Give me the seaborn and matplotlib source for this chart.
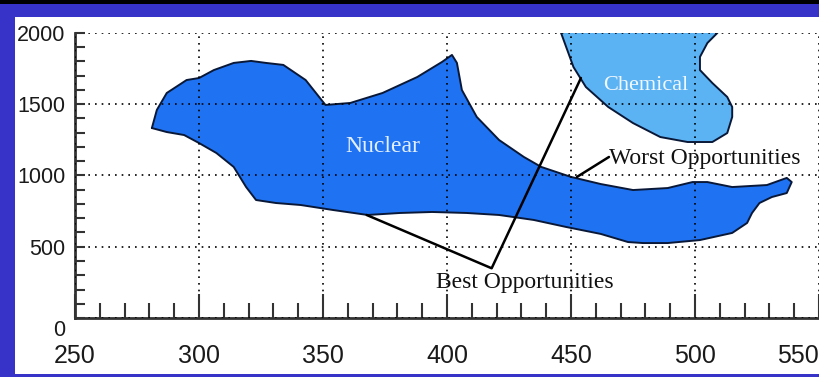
import matplotlib
matplotlib.use("Agg")
import matplotlib.pyplot as plt
import matplotlib.transforms as mtransforms
from matplotlib.patches import Rectangle
from matplotlib.ticker import MultipleLocator
import seaborn as sns

# ---------------- data ----------------
nuclear_x = [281, 283, 287, 295, 300, 306, 314, 321, 327, 334,
             343, 351, 361, 374, 388, 398, 402, 404, 406, 412,
             421, 431, 438, 450, 462, 475, 489, 499, 505, 515,
             529, 537, 539, 537, 531, 526, 523, 521, 515, 502,
             489, 479, 473, 462, 448, 435, 421, 408, 394, 381,
             368, 354, 341, 331, 323, 319, 314, 307, 300, 294, 287]
nuclear_y = [1333, 1460, 1579, 1670, 1684, 1740, 1790, 1804, 1790, 1776,
             1670, 1495, 1509, 1579, 1691, 1797, 1846, 1790, 1600, 1411,
             1249, 1130, 1060, 990, 940, 898, 912, 954, 954, 919,
             933, 983, 954, 877, 849, 807, 737, 667, 597, 547,
             526, 526, 533, 590, 639, 688, 723, 737, 744, 737,
             723, 758, 793, 807, 828, 919, 1060, 1158, 1228, 1284, 1305]

chemical_x = [444, 446, 451, 456, 465, 475, 486, 497, 507, 513,
              515, 515, 513, 507, 502, 502, 505, 509, 511]
chemical_y = [2060, 2000, 1761, 1621, 1481, 1368, 1270, 1235, 1235, 1298,
              1411, 1481, 1551, 1649, 1740, 1832, 1930, 2000, 2060]

region_labels = ["Nuclear", "Chemical"]
region_label_x = [374, 480]
region_label_y = [1200, 1635]

worst_label = "Worst Opportunities"
worst_text_x, worst_text_y = 465.5, 1116
worst_line_x = [465.3, 452.4]
worst_line_y = [1130, 990]

best_label = "Best Opportunities"
best_text_x, best_text_y = 431.4, 246
best_line_x = [367.6, 418.0, 454.0]
best_line_y = [723, 349, 1684]

x_ticks = [250, 300, 350, 400, 450, 500, 550]
y_ticks = [0, 500, 1000, 1500, 2000]

# ---------------- figure ----------------
sns.set_theme(style="white")
W, H = 820, 377
fig = plt.figure(figsize=(W / 100, H / 100), dpi=100, facecolor="#3833C8")
fig.add_artist(Rectangle((0, 373 / H), 1, 4 / H, transform=fig.transFigure,
                         facecolor="black", edgecolor="none", zorder=-10))
fig.add_artist(Rectangle((15 / W, 3 / H), 1 - 15 / W, 357 / H, transform=fig.transFigure,
                         facecolor="white", edgecolor="none", zorder=-10))

ax = fig.add_axes([75 / W, 59 / H, 744 / W, 285 / H])
ax.set_facecolor("none")

nuc_col = "#1F73F2"
chem_col = "#5BB3F4"
edge_col = "#0A1838"

ax.fill(nuclear_x, nuclear_y, color=nuc_col, zorder=1, linewidth=0)
ax.fill(chemical_x, chemical_y, color=chem_col, zorder=1, linewidth=0)
sns.lineplot(x=nuclear_x + nuclear_x[:1], y=nuclear_y + nuclear_y[:1], sort=False,
             estimator=None, ax=ax, color=edge_col, linewidth=1.4, zorder=2)
sns.lineplot(x=chemical_x, y=chemical_y, sort=False, estimator=None, ax=ax,
             color=edge_col, linewidth=1.4, zorder=2)

# annotation lines
sns.lineplot(x=worst_line_x, y=worst_line_y, sort=False, estimator=None, ax=ax,
             color="black", linewidth=1.8, zorder=3)
sns.lineplot(x=best_line_x, y=best_line_y, sort=False, estimator=None, ax=ax,
             color="black", linewidth=1.8, zorder=3)

serif = ["Liberation Serif", "DejaVu Serif"]
label_cols = ["#E4F0FF", "#F2F8FF"]
label_sizes = [17, 16]
for lab, lx, ly, c, fs in zip(region_labels, region_label_x, region_label_y,
                              label_cols, label_sizes):
    ax.text(lx, ly, lab, ha="center", va="center", fontsize=fs, color=c,
            family=serif, zorder=4)
ax.text(worst_text_x, worst_text_y, worst_label, ha="left", va="center",
        fontsize=17, color="#111111", family=serif, zorder=4)
ax.text(best_text_x, best_text_y, best_label, ha="center", va="center",
        fontsize=17, color="#111111", family=serif, zorder=4)

# axes
ax.set_xlim(250, 550)
ax.set_ylim(0, 2000)
ax.set_xlabel("")
ax.set_ylabel("")
tickfont = ["Liberation Sans", "DejaVu Sans"]
ax.set_xticks(x_ticks, labels=[str(v) for v in x_ticks], fontsize=18,
              family=tickfont, color="#1a1a1a")
ax.set_yticks(y_ticks, labels=[str(v) for v in y_ticks], fontsize=15.5,
              family=tickfont, color="#1a1a1a")
ax.xaxis.set_minor_locator(MultipleLocator(10))
ax.yaxis.set_minor_locator(MultipleLocator(100))
ax.tick_params(axis="x", which="major", direction="in", length=17, width=1.5,
               color="#333333", pad=19, bottom=True)
ax.tick_params(axis="x", which="minor", direction="in", length=11, width=1.5,
               color="#333333", bottom=True)
ax.tick_params(axis="y", which="both", direction="in", length=7, width=1.5,
               color="#333333", pad=7, left=True)

zero_lab = ax.get_yticklabels()[0]
zero_lab.set_transform(zero_lab.get_transform() +
                       mtransforms.ScaledTranslation(0, -10 / 100, fig.dpi_scale_trans))
last_lab = ax.get_xticklabels()[-1]
last_lab.set_horizontalalignment("right")

for s in ["top", "right"]:
    ax.spines[s].set_visible(False)
for s in ["left", "bottom"]:
    ax.spines[s].set_visible(True)
    ax.spines[s].set_color("#333333")
    ax.spines[s].set_linewidth(2)

ax.set_axisbelow(False)
ax.grid(True, which="major", color="black", linestyle=(0, (1, 3)), linewidth=1.2)

fig.savefig("out.png", dpi=100, facecolor=fig.get_facecolor())
